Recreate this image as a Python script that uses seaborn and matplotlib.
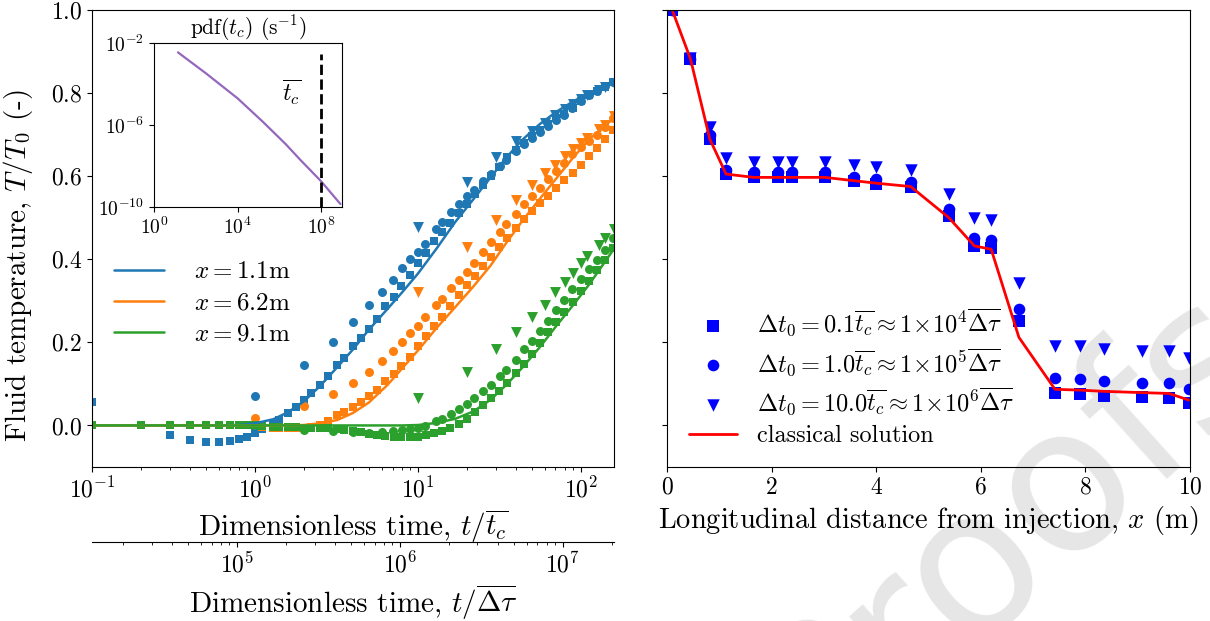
import matplotlib
matplotlib.use("Agg")
import matplotlib.pyplot as plt
import seaborn as sns

# ---- left panel: fluid temperature vs dimensionless time ----
x_labels = [r"$x = 1.1$m", r"$x = 6.2$m", r"$x = 9.1$m"]
colors = ["#1f77b4", "#ff7f0e", "#2ca02c"]

t_line = [0.1, 0.5, 0.8, 1.0, 1.3, 1.6, 2.0, 2.5, 3.2, 4.0, 5.0, 6.5, 8.0,
          10, 13, 17, 22, 28, 35, 44, 56, 71, 90, 113, 160]
line_blue = [0, 0, 0.001, 0.005, 0.015, 0.032, 0.058, 0.094, 0.14, 0.183, 0.23, 0.28, 0.32,
             0.365, 0.425, 0.49, 0.545, 0.597, 0.645, 0.688, 0.725, 0.755, 0.78, 0.80, 0.83]
line_orange = [0, 0, 0, 0, 0, 0, 0.001, 0.005, 0.013, 0.03, 0.055, 0.097, 0.137,
               0.18, 0.234, 0.285, 0.335, 0.385, 0.44, 0.493, 0.545, 0.595, 0.645, 0.689, 0.74]
line_green = [0, 0, 0, 0, 0, 0, 0, 0, 0, 0, 0, 0, 0,
              0.001, 0.006, 0.016, 0.034, 0.062, 0.098, 0.14, 0.188, 0.24, 0.29, 0.34, 0.425]

# squares: dt0 = 0.1 tc
t_sq = [0.1, 0.2, 0.3, 0.4, 0.5, 0.6, 0.7, 0.8, 0.9, 1.0,
        1.1, 1.3, 1.4, 1.6, 1.8, 2.0, 2.2, 2.5, 2.8, 3.2, 3.5, 4.0, 4.5, 5.0, 5.6,
        6.3, 7.1, 7.9, 8.9, 10, 11.2, 12.6, 14.1, 15.8, 17.8, 20, 22.4, 25.1, 28.2,
        31.6, 35.5, 39.8, 44.7, 50.1, 56.2, 63.1, 70.8, 79.4, 89.1, 100, 112, 126, 141, 158]
sq_blue = [0.057, 0.0, -0.024, -0.035, -0.04, -0.04, -0.037, -0.032, -0.027, -0.019,
           -0.008, 0.003, 0.012, 0.03, 0.045, 0.062, 0.077, 0.097, 0.12, 0.145, 0.162,
           0.19, 0.21, 0.231, 0.256, 0.287, 0.31, 0.335, 0.363, 0.39, 0.416, 0.443,
           0.466, 0.488, 0.512, 0.534, 0.556, 0.578, 0.601, 0.623, 0.645, 0.664, 0.68,
           0.696, 0.711, 0.726, 0.739, 0.749, 0.763, 0.782, 0.795, 0.806, 0.815, 0.826]
sq_orange = [0, 0, 0, 0, 0, 0, 0, 0, 0, 0,
             -0.004, -0.005, -0.006, -0.006, -0.006, -0.005, -0.004, 0.0, 0.01, 0.024, 0.032,
             0.044, 0.056, 0.07, 0.086, 0.106, 0.125, 0.143, 0.165, 0.19, 0.215, 0.24,
             0.262, 0.287, 0.313, 0.338, 0.36, 0.383, 0.405, 0.43, 0.452, 0.474, 0.497,
             0.516, 0.535, 0.553, 0.572, 0.59, 0.608, 0.628, 0.648, 0.668, 0.69, 0.71]
sq_green = [0, 0, 0, 0, 0, 0, 0, 0, 0, 0,
            -0.002, -0.003, -0.003, -0.004, -0.004, -0.005, -0.005, -0.006, -0.007, -0.008, -0.01,
            -0.013, -0.016, -0.02, -0.023, -0.026, -0.027, -0.028, -0.028, -0.027, -0.024, -0.019,
            -0.014, -0.007, 0.004, 0.016, 0.032, 0.048, 0.065, 0.083, 0.103, 0.126, 0.148,
            0.173, 0.198, 0.224, 0.248, 0.274, 0.298, 0.323, 0.348, 0.373, 0.398, 0.428]

# circles: dt0 = 1.0 tc
t_ci = [1, 2, 3, 4, 5, 6, 7, 8, 9, 10, 11, 13, 14, 16, 18, 20, 22, 25, 28, 32, 35, 40,
        45, 50, 56, 63, 71, 79, 89, 100, 112, 126, 141, 158]
ci_blue = [0.072, 0.145, 0.20, 0.25, 0.29, 0.322, 0.35, 0.378, 0.40, 0.418, 0.436, 0.472,
           0.49, 0.513, 0.534, 0.553, 0.566, 0.588, 0.606, 0.625, 0.638, 0.66, 0.677,
           0.692, 0.707, 0.72, 0.735, 0.748, 0.765, 0.782, 0.796, 0.806, 0.816, 0.826]
ci_orange = [0.019, 0.046, 0.075, 0.103, 0.128, 0.155, 0.18, 0.202, 0.222, 0.24, 0.262, 0.29,
             0.305, 0.33, 0.35, 0.37, 0.392, 0.418, 0.442, 0.466, 0.485, 0.508, 0.532,
             0.551, 0.572, 0.594, 0.613, 0.631, 0.653, 0.67, 0.685, 0.70, 0.718, 0.74]
ci_green = [0.0, -0.01, -0.013, -0.016, -0.018, -0.016, -0.014, -0.011, -0.008, -0.006, -0.001,
            0.01, 0.016, 0.028, 0.04, 0.052, 0.067, 0.083, 0.098, 0.118, 0.134, 0.158, 0.183,
            0.204, 0.227, 0.252, 0.277, 0.301, 0.328, 0.352, 0.376, 0.399, 0.422, 0.45]

# triangles: dt0 = 10 tc
t_tr = [10, 20, 30, 40, 50, 60, 70, 80, 90, 100, 110, 130, 140, 160]
tr_blue = [0.477, 0.585, 0.645, 0.685, 0.708, 0.727, 0.747, 0.762, 0.773, 0.785, 0.795,
           0.808, 0.815, 0.825]
tr_orange = [0.32, 0.43, 0.495, 0.542, 0.578, 0.607, 0.628, 0.648, 0.665, 0.68, 0.692,
             0.713, 0.722, 0.745]
tr_green = [0.065, 0.128, 0.183, 0.224, 0.26, 0.29, 0.32, 0.345, 0.368, 0.39, 0.408,
            0.435, 0.45, 0.472]

tc_to_dtau = 1.29e5

# inset: pdf of t_c
pdf_t = [1.4e1, 3.2e2, 1e4, 1.6e5, 2e6, 1e7, 1e8, 8.3e8]
pdf_val = [3.5e-3, 3.2e-4, 2e-5, 1.45e-6, 1.17e-7, 2e-8, 1.78e-9, 1.4e-10]
tc_mean = 1e8

# ---- right panel: profile along x ----
x_pos = [0.1, 0.45, 0.82, 1.13, 1.66, 2.12, 2.39, 3.02, 3.58, 4.0, 4.66, 5.39, 5.88, 6.2,
         6.73, 7.42, 7.9, 8.36, 9.08, 9.6, 9.98]
prof_sq = [1.0, 0.882, 0.689, 0.605, 0.597, 0.597, 0.597, 0.597, 0.589, 0.581, 0.575, 0.504,
           0.432, 0.426, 0.252, 0.079, 0.076, 0.072, 0.068, 0.067, 0.053]
prof_ci = [1.0, 0.882, 0.70, 0.615, 0.609, 0.609, 0.609, 0.609, 0.599, 0.593, 0.586, 0.52,
           0.452, 0.447, 0.28, 0.115, 0.112, 0.107, 0.103, 0.101, 0.087]
prof_tr = [1.0, 0.885, 0.718, 0.643, 0.633, 0.633, 0.633, 0.633, 0.627, 0.621, 0.615, 0.558,
           0.50, 0.494, 0.344, 0.191, 0.19, 0.183, 0.18, 0.179, 0.163]
prof_classic = [1.0, 0.882, 0.689, 0.605, 0.597, 0.597, 0.597, 0.597, 0.589, 0.583, 0.575, 0.50,
                0.432, 0.424, 0.212, 0.087, 0.085, 0.082, 0.079, 0.077, 0.061]
prof_labels = [r"$\Delta t_0 = 0.1\overline{t_c} \approx 1\!\times\!10^4\overline{\Delta\tau}$",
               r"$\Delta t_0 = 1.0\overline{t_c} \approx 1\!\times\!10^5\overline{\Delta\tau}$",
               r"$\Delta t_0 = 10.0\overline{t_c} \approx 1\!\times\!10^6\overline{\Delta\tau}$",
               "classical solution"]

sns.set_style("ticks")
plt.rcParams.update({
    "font.family": "serif",
    "font.serif": ["cmr10"],
    "mathtext.fontset": "cm",
    "axes.formatter.use_mathtext": True,
    "axes.unicode_minus": False,
    "axes.edgecolor": "black",
    "axes.labelcolor": "black",
    "text.color": "black",
    "xtick.color": "black",
    "ytick.color": "black",
    "xtick.labelsize": 17,
    "ytick.labelsize": 17,
    "axes.labelsize": 21,
})

fig = plt.figure(figsize=(12.1, 6.21), dpi=100)
ax1 = fig.add_axes([0.076, 0.248, 0.4314, 0.736])
ax2 = fig.add_axes([0.5512, 0.248, 0.4322, 0.736], sharey=ax1)
for a in (ax1, ax2):
    a.set_facecolor("none")

# watermark
fig.text(0.835, 0.15, "Proofs", rotation=42, fontsize=145, color="#e6e6e6",
         family="DejaVu Sans", ha="center", va="center", zorder=-1)

lines = [line_blue, line_orange, line_green]
squares = [sq_blue, sq_orange, sq_green]
circles = [ci_blue, ci_orange, ci_green]
triangles = [tr_blue, tr_orange, tr_green]
for i, c in enumerate(colors):
    sns.scatterplot(x=t_sq, y=squares[i], ax=ax1, marker="s", color=c, s=36, linewidth=0)
    sns.scatterplot(x=t_ci, y=circles[i], ax=ax1, marker="o", color=c, s=42, linewidth=0)
    sns.scatterplot(x=t_tr, y=triangles[i], ax=ax1, marker="v", color=c, s=62, linewidth=0)
    sns.lineplot(x=t_line, y=lines[i], ax=ax1, color=c, lw=1.8, label=x_labels[i])

ax1.set_xscale("log")
ax1.set_xlim(0.1, 160)
ax1.set_ylim(-0.1, 1.0)
ax1.set_yticks([0.0, 0.2, 0.4, 0.6, 0.8, 1.0])
ax1.set_xlabel(r"Dimensionless time, $t/\overline{t_c}$")
ax1.set_ylabel(r"Fluid temperature, $T/T_0$ (-)", fontsize=21)
ax1.yaxis.set_label_coords(-0.11, 0.44)
ax1.legend(loc="upper left", bbox_to_anchor=(0.0, 0.5), frameon=False, fontsize=18,
           handlelength=2.0, handletextpad=1.2, labelspacing=0.34)

sec = ax1.secondary_xaxis(-0.164, functions=(lambda t: t * tc_to_dtau,
                                             lambda s: s / tc_to_dtau))
sec.set_xlabel(r"Dimensionless time, $t/\overline{\Delta\tau}$")

axin = fig.add_axes([0.1273, 0.6667, 0.1554, 0.264])
sns.lineplot(x=pdf_t, y=pdf_val, ax=axin, color="#9467bd", lw=1.6)
axin.set_xscale("log")
axin.set_yscale("log")
axin.set_xlim(1, 1e9)
axin.set_ylim(1e-10, 1e-2)
axin.set_xticks([1, 1e4, 1e8])
axin.set_yticks([1e-10, 1e-6, 1e-2])
axin.minorticks_off()
axin.tick_params(labelsize=14)
axin.vlines(tc_mean, 1e-10, 3e-3, colors="k", linestyles="--", lw=2)
axin.text(4e6, 4e-5, r"$\overline{t_c}$", fontsize=17, ha="center", va="center")
axin.set_title(r"pdf$(t_c)$ (s$^{-1}$)", fontsize=15.5, pad=3)

# right panel
sns.scatterplot(x=x_pos, y=prof_sq, ax=ax2, marker="s", color="blue", s=70, linewidth=0,
                label=prof_labels[0])
sns.scatterplot(x=x_pos, y=prof_ci, ax=ax2, marker="o", color="blue", s=70, linewidth=0,
                label=prof_labels[1])
sns.scatterplot(x=x_pos, y=prof_tr, ax=ax2, marker="v", color="blue", s=80, linewidth=0,
                label=prof_labels[2])
sns.lineplot(x=x_pos, y=prof_classic, ax=ax2, color="red", lw=2, label=prof_labels[3])
ax2.set_xlim(0, 10)
ax2.set_xticks([0, 2, 4, 6, 8, 10])
ax2.tick_params(axis="y", labelleft=False)
ax2.set_xlabel(r"Longitudinal distance from injection, $x$ (m)", fontsize=20.5)
ax2.set_ylabel("")
h, l = ax2.get_legend_handles_labels()
order = [l.index(s) for s in prof_labels]
ax2.legend([h[i] for i in order], [l[i] for i in order], loc="lower left",
           bbox_to_anchor=(0.0, -0.005), frameon=False, fontsize=17.5, labelspacing=0.33)

fig.savefig("out.png", dpi=100)
